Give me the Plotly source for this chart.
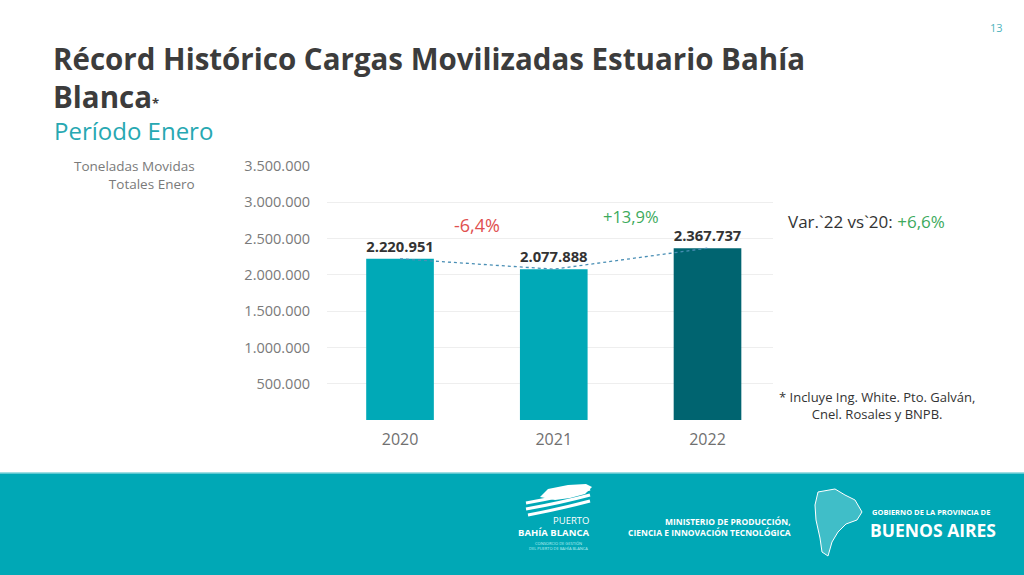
import plotly.graph_objects as go

# ---- data ----
years = ["2020", "2021", "2022"]
tons = [2220951, 2077888, 2367737]
bar_colors = ["#00A9B7", "#00A9B7", "#006470"]
y_ticks = [0, 500000, 1000000, 1500000, 2000000, 2500000, 3000000, 3500000]

W, H = 1024, 575
L, R, T, B = 327, 773, 166, 420  # plot area in pixels


def px(x):
    return (x - L) / (R - L)


def py(y):
    return (B - y) / (B - T)


def fmt_pct(v):
    s = f"{v:+.1f}%".replace(".", ",")
    return s


var_21 = (tons[1] / tons[0] - 1) * 100
var_22 = (tons[2] / tons[1] - 1) * 100
var_22_20 = (tons[2] / tons[0] - 1) * 100

FONT = "Open Sans"

fig = go.Figure()
fig.add_trace(go.Bar(
    x=years, y=tons, marker=dict(color=bar_colors, line=dict(width=0)),
    width=0.44,
    texttemplate="<b>%{y:,.0f}</b>", textposition="outside",
    textfont=dict(size=17.5, color="#333333", family=FONT),
    cliponaxis=False, hoverinfo="skip",
))
fig.add_trace(go.Scatter(
    x=years, y=tons, mode="lines",
    line=dict(color="#4A8FB5", width=1.3, dash="dot"),
    hoverinfo="skip",
))

fig.update_layout(
    width=W, height=H,
    margin=dict(l=L, r=W - R, t=T, b=H - B, pad=0),
    paper_bgcolor="white", plot_bgcolor="white",
    showlegend=False,
    separators=",.",
    font=dict(family=FONT, color="#777777"),
    xaxis=dict(range=[-0.475, 2.426], showgrid=False, zeroline=False,
               showline=False, ticks="", ticklabelstandoff=8,
               tickfont=dict(size=16, color="#707070", family=FONT)),
    yaxis=dict(range=[0, 3500000], tickvals=y_ticks,
               ticktext=["" if v == 0 else f"{v:,}".replace(",", ".") for v in y_ticks],
               showgrid=True, gridcolor="#EEEEEE", gridwidth=1,
               zeroline=False, showline=False, ticks="",
               ticklabelstandoff=16,
               tickfont=dict(size=14.5, color="#7A7A7A", family=FONT)),
)

ann = []
# Title (two lines in one text block)
ann.append(dict(x=px(51), y=py(78), xref="paper", yref="paper", xanchor="left", yanchor="middle",
                text="<b>Récord Histórico Cargas Movilizadas Estuario Bahía</b><br>"
                     "<b>Blanca</b><span style='font-size:13px'><b>*</b></span>",
                showarrow=False, align="left",
                font=dict(size=29.5, color="#3C3C3C", family=FONT)))
ann.append(dict(x=px(52), y=py(130), xref="paper", yref="paper", xanchor="left", yanchor="middle",
                text="Período Enero", showarrow=False,
                font=dict(size=24, color="#27A8B2", family=FONT)))
ann.append(dict(x=px(996), y=py(27), xref="paper", yref="paper", xanchor="center", yanchor="middle",
                text="13", showarrow=False,
                font=dict(size=11, color="#4FB3BD", family=FONT)))
# Y axis title
ann.append(dict(x=px(197), y=py(175), xref="paper", yref="paper", xanchor="right", yanchor="middle",
                text="Toneladas Movidas<br>Totales Enero", showarrow=False, align="right",
                font=dict(size=13.5, color="#7A7A7A", family=FONT)))
# variations
ann.append(dict(x=0.5, y=2690000, xref="x", yref="y", xanchor="center", yanchor="middle",
                text=fmt_pct(var_21), showarrow=False,
                font=dict(size=18, color="#E0504F", family=FONT)))
ann.append(dict(x=1.5, y=2800000, xref="x", yref="y", xanchor="center", yanchor="middle",
                text=fmt_pct(var_22), showarrow=False,
                font=dict(size=16.5, color="#3DAA5C", family=FONT)))
ann.append(dict(x=px(786), y=py(221), xref="paper", yref="paper", xanchor="left", yanchor="middle",
                text="Var.`22 vs`20: <span style='color:#3DAA5C'>" + fmt_pct(var_22_20) + "</span>",
                showarrow=False, font=dict(size=17, color="#333333", family=FONT)))
ann.append(dict(x=px(877), y=py(405), xref="paper", yref="paper", xanchor="center", yanchor="middle",
                text="* Incluye Ing. White. Pto. Galván,<br>Cnel. Rosales y BNPB.", showarrow=False,
                align="center", font=dict(size=13, color="#333333", family=FONT)))

# footer texts
ann.append(dict(x=px(591), y=py(520), xref="paper", yref="paper", xanchor="right", yanchor="middle",
                text="PUERTO", showarrow=False, font=dict(size=9.5, color="white", family=FONT)))
ann.append(dict(x=px(591), y=py(532), xref="paper", yref="paper", xanchor="right", yanchor="middle",
                text="<b>BAHÍA BLANCA</b>", showarrow=False, font=dict(size=9.5, color="white", family=FONT)))
ann.append(dict(x=px(558), y=py(543), xref="paper", yref="paper", xanchor="center", yanchor="middle",
                text="CONSORCIO DE GESTIÓN", showarrow=False,
                font=dict(size=4, color="#BFEFF2", family=FONT)))
ann.append(dict(x=px(558), y=py(548), xref="paper", yref="paper", xanchor="center", yanchor="middle",
                text="DEL PUERTO DE BAHÍA BLANCA", showarrow=False,
                font=dict(size=4, color="#BFEFF2", family=FONT)))
ann.append(dict(x=px(793), y=py(527), xref="paper", yref="paper", xanchor="right", yanchor="middle",
                text="<b>MINISTERIO DE PRODUCCIÓN,<br>CIENCIA E INNOVACIÓN TECNOLÓGICA</b>", showarrow=False,
                align="right", font=dict(size=8.5, color="white", family=FONT)))
ann.append(dict(x=px(870), y=py(512), xref="paper", yref="paper", xanchor="left", yanchor="middle",
                text="<b>GOBIERNO DE LA PROVINCIA DE</b>", showarrow=False,
                font=dict(size=7.5, color="white", family=FONT)))
ann.append(dict(x=px(868), y=py(530), xref="paper", yref="paper", xanchor="left", yanchor="middle",
                text="<b>BUENOS AIRES</b>", showarrow=False,
                font=dict(size=17.5, color="white", family=FONT)))

fig.update_layout(annotations=ann)

shapes = []
# footer band
shapes.append(dict(type="rect", xref="paper", yref="paper", x0=px(0), x1=px(W), y0=py(H), y1=py(473),
                   fillcolor="#00A8B6", line=dict(width=0), layer="below"))
shapes.append(dict(type="line", xref="paper", yref="paper", x0=px(0), x1=px(W), y0=py(473), y1=py(473),
                   line=dict(color="#7FD3DA", width=1.5)))


def path(points, close=True):
    s = "M " + " L ".join(f"{px(a):.5f},{py(b):.5f}" for a, b in points)
    return s + (" Z" if close else "")


# ship logo (approximate)
shapes.append(dict(type="path", xref="paper", yref="paper",
                   path=path([(540, 497), (548, 489), (568, 485), (586, 484), (592, 487), (585, 494),
                              (570, 498), (555, 500)]),
                   fillcolor="white", line=dict(width=0)))
for yy, x0 in [(503, 526), (509, 526), (515, 528)]:
    shapes.append(dict(type="path", xref="paper", yref="paper",
                       path=f"M {px(x0):.5f},{py(yy):.5f} Q {px(560):.5f},{py(yy - 6):.5f} {px(590):.5f},{py(yy - 14):.5f}",
                       line=dict(color="white", width=3)))
# Buenos Aires map (approximate outline)
shapes.append(dict(type="path", xref="paper", yref="paper",
                   path=path([(818, 492), (835, 489), (845, 495), (855, 500), (862, 512), (857, 520),
                              (846, 524), (838, 532), (832, 542), (828, 556), (822, 552), (820, 538),
                              (816, 520), (815, 505)]),
                   fillcolor="rgba(255,255,255,0.25)", line=dict(color="white", width=1)))

fig.update_layout(shapes=shapes)

fig.write_html("out.html")
